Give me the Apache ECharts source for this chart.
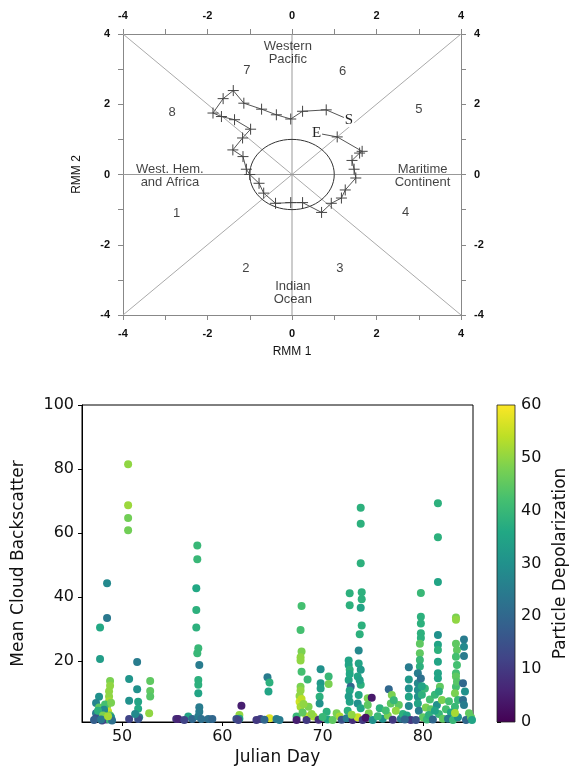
<!DOCTYPE html>
<html>
<head>
<meta charset="utf-8">
<title>MJO phase diagram and cloud backscatter</title>
<script src="https://cdn.jsdelivr.net/npm/echarts@6/dist/echarts.min.js"></script>
<style>
  html, body { margin: 0; padding: 0; background: #fff; }
  #chart { width: 570px; height: 775px; }
</style>
</head>
<body>
<div id="chart"></div>
<script>
// ---- RMM phase diagram ----
const rmmTicks = [-4, -2, 0, 2, 4];
const rmmMinorTicks = [-4, -3, -2, -1, 0, 1, 2, 3, 4];

// daily RMM1 / RMM2 trajectory, first point = S, last point = E
const rmm1 = [1.35, 0.81, 0.25, -0.03, -0.37, -0.72, -1.14, -1.39, -1.63, -1.87, -1.67, -1.36, -0.98, -1.17, -1.40, -1.16, -1.08, -1.0, -0.78, -0.67, -0.39, -0.03, 0.25, 0.70, 0.93, 1.17, 1.26, 1.51, 1.47, 1.42, 1.60, 1.66, 1.07, 0.58];
const rmm2 = [1.56, 1.84, 1.80, 1.58, 1.70, 1.86, 2.03, 2.39, 2.16, 1.75, 1.65, 1.56, 1.29, 1.04, 0.70, 0.51, 0.15, 0.0, -0.25, -0.53, -0.82, -0.80, -0.80, -1.08, -0.82, -0.67, -0.44, -0.10, 0.15, 0.40, 0.61, 0.66, 1.07, 1.18];
const trajectoryEndLabels = ['S', 'E'];

// phase sector labels
const phaseText = ['Western\nPacific', '7', '6', '8', '5', 'West. Hem.\nand Africa', 'Maritime\nContinent', '1', '4', '2', '3', 'Indian\nOcean'];
const phaseX = [-0.1, -1.07, 1.2, -2.84, 3.0, -2.89, 3.09, -2.73, 2.69, -1.09, 1.13, 0.02];
const phaseY = [3.47, 2.95, 2.93, 1.78, 1.84, -0.04, -0.04, -1.12, -1.09, -2.66, -2.66, -3.38];

// sector divider lines
const dividerSegments = [
  [[-4, -4], [4, 4]],
  [[-4, 4], [4, -4]],
  [[-4, 0], [4, 0]],
  [[0, -4], [0, 4]]
];

// ---- cloud backscatter scatter: [julian day, mean backscatter, particle depolarization] ----
const dayTicks = [50, 60, 70, 80];
const backscatterTicks = [20, 40, 60, 80, 100];
const cloudPoints = [
  [48.5,44.3,28],[48.5,33.5,24],[47.8,30.5,36],[47.8,20.7,33],
  [48.8,13.8,48],[48.8,12.3,50],[48.7,10.6,50],[48.7,9.0,50],[48.7,7.5,52],[48.5,5.9,50],[48.6,4.3,55],[48.8,3.0,45],
  [47.7,8.9,30],[47.4,6.9,27],[47.7,5.5,45],[47.4,3.7,25],[47.4,2.2,15],[48.0,2.5,20],[48.4,1.8,8],[48.9,2.5,30],
  [48.7,1.8,40],[48.2,3.8,35],[47.2,1.6,18],[48.0,1.5,12],[49.0,1.5,22],[48.3,6.5,42],[48.9,7.0,48],[48.2,4.8,28],
  [47.6,4.5,38],[48.1,3.0,48],[47.9,1.8,24],[48.6,2.8,52],
  [50.6,81.5,50],[50.6,68.7,51],[50.6,64.7,47],[50.6,60.9,47],
  [51.5,19.7,25],[50.7,14.4,31],[51.5,11.2,30],[50.7,7.6,30],[51.6,7.3,35],[51.6,5.1,36],[51.7,2.5,25],[50.7,1.9,12],
  [51.6,1.9,15],[51.3,3.5,28],
  [52.8,13.8,45],[52.8,10.7,45],[52.8,9.0,44],[52.7,3.7,50],
  [55.4,1.9,8],[55.6,1.9,6],[56.6,2.7,35],[57.0,1.9,20],[58.6,1.9,22],[59.0,1.9,20],[56.2,1.6,12],
  [57.5,56.1,40],[57.5,51.8,40],[57.4,42.8,36],[57.4,36.0,38],[57.4,30.5,38],[57.6,24.0,40],[57.5,22.5,40],
  [57.7,18.8,25],[57.6,14.1,38],[57.6,12.6,38],[57.6,10.0,35],[57.7,5.6,25],[57.7,4.2,25],[57.6,2.7,25],[57.9,1.9,22],
  [61.9,6.1,5],[61.7,3.2,50],[61.7,2.0,35],[61.4,1.9,15],[61.6,1.6,12],
  [64.5,15.0,25],[64.7,13.3,38],[64.6,10.5,35],[64.7,2.2,57],[63.8,1.9,12],[65.4,1.9,25],[63.4,1.6,10],[65.7,1.6,25],
  [64.2,1.7,20],
  [67.9,37.2,42],[67.8,29.7,42],[67.9,23.0,48],[67.8,21.2,50],[67.8,20.2,50],[67.9,16.7,42],[67.8,12.0,48],
  [67.8,10.8,50],[67.7,9.1,50],[67.7,7.3,56],[67.8,5.8,52],[68.6,5.8,48],[68.4,2.7,55],[69.1,2.7,52],[67.4,2.7,40],
  [68.5,14.3,40],[67.4,1.6,5],[68.4,1.6,10],[69.6,1.7,8],[68.0,4.0,45],[68.9,3.5,50],[67.9,8.2,54],[68.1,6.6,50],
  [69.8,17.5,30],[69.8,13.1,32],[69.8,11.5,34],[69.7,8.9,38],[69.7,6.8,30],[70.6,15.2,40],[70.6,12.9,48],
  [70.4,4.2,38],[71.4,3.7,48],[71.7,2.7,52],[70.5,1.8,35],[71.0,1.6,45],[71.9,1.7,15],[70.0,2.6,40],
  [73.8,67.9,38],[73.8,62.9,38],[73.8,50.6,38],
  [72.7,41.2,38],[72.7,37.5,38],[73.9,41.5,38],[73.9,39.3,38],[73.8,36.7,35],[73.9,31.1,38],[73.7,28.4,38],[73.6,23.3,28],
  [72.6,20.2,35],[72.6,18.8,35],[72.7,17.3,38],[72.6,14.1,35],[72.8,12.0,20],[72.7,10.8,35],[72.7,7.3,35],
  [73.6,19.3,35],[73.8,17.3,32],[73.5,15.2,35],[73.8,12.6,38],[73.6,9.4,35],[73.5,6.8,30],[73.8,5.3,35],
  [74.5,8.4,48],[74.9,8.6,4],[74.5,6.3,45],[74.6,3.7,48],[72.5,4.5,38],[72.4,2.2,25],[73.0,1.6,8],[73.5,2.5,55],
  [74.0,1.6,10],[74.3,2.3,3],[75.0,1.6,30],[72.9,3.3,50],[72.7,16.0,36],[73.7,14.0,34],[72.6,9.0,33],
  [75.7,5.3,38],[76.6,11.2,20],[76.9,9.4,48],[76.8,6.8,45],[77.6,6.3,45],[76.0,2.0,30],[76.5,3.0,48],[77.0,1.7,10],
  [77.8,2.0,25],[75.5,2.8,40],[78.0,3.5,38],[77.3,4.5,50],[76.3,4.6,42],[77.1,7.8,40],
  [78.6,18.1,25],[78.6,14.3,32],[78.6,11.5,30],[78.6,8.9,35],[78.6,6.0,28],[78.4,3.0,35],[78.8,1.6,10],[78.2,1.8,20],
  [79.8,41.3,40],[79.8,33.9,38],[79.8,31.8,38],[79.8,28.7,38],[79.8,27.2,38],[79.7,25.4,45],[79.7,22.5,45],
  [79.7,20.4,40],[79.7,18.3,38],[79.5,16.2,25],[79.5,13.1,28],[79.5,11.0,30],[79.5,8.9,30],[79.5,6.8,35],
  [79.8,14.6,22],[79.9,9.5,38],[79.6,4.5,25],[80.0,2.5,45],[79.3,1.6,15],[80.4,1.8,40],[80.3,5.5,48],
  [80.7,8.0,42],[80.8,5.0,45],[80.6,3.2,38],[80.2,11.5,40],[79.9,12.2,35],
  [81.5,69.3,38],[81.5,58.7,38],[81.5,44.7,35],[81.5,28.2,30],[81.5,25.1,35],[81.5,23.5,38],[81.5,19.8,35],
  [81.5,16.2,35],[81.5,14.7,35],[81.7,12.0,45],[81.4,6.3,30],[81.9,7.9,48],[81.2,9.5,40],[81.6,3.5,40],
  [81.0,1.8,20],[82.0,2.0,45],[81.2,4.5,35],[81.6,10.5,38],[82.3,5.0,42],
  [83.3,33.6,48],[83.3,32.9,50],[83.3,25.4,45],[83.4,23.5,45],[83.3,21.4,42],[83.4,18.8,42],[83.3,16.2,42],
  [83.3,15.2,45],[83.3,12.0,42],[83.2,10.0,48],[83.5,7.9,40],[83.2,5.8,40],[82.6,7.5,42],[82.8,4.0,35],
  [82.5,2.0,25],[83.0,1.6,40],[83.5,2.5,30],[83.4,13.6,44],[83.2,3.8,52],
  [84.1,26.8,25],[84.1,24.5,28],[84.1,21.6,25],[84.0,13.1,20],[84.0,7.9,22],[84.1,6.3,25],[84.6,3.7,45],
  [84.3,1.6,20],[84.8,2.5,45],[84.9,1.6,35],[84.2,10.5,30]
];

// viridis colour map
const viridis = ['#440154', '#482475', '#414487', '#355f8d', '#2a788e', '#21918c', '#22a884', '#44bf70', '#7ad151', '#bddf26', '#fde725'];

const sansTop = '"Liberation Sans", Arial, sans-serif';
const sansBottom = '"DejaVu Sans", sans-serif';

function rmmAxis(position, nameOpts) {
  return Object.assign({
    gridIndex: 0,
    type: 'value',
    min: -4,
    max: 4,
    position: position,
    axisLine: { show: true, onZero: false, lineStyle: { color: '#888', width: 1 } },
    axisTick: { show: true, inside: false, length: 5, customValues: rmmMinorTicks, lineStyle: { color: '#888', width: 1 } },
    axisLabel: {
      customValues: rmmTicks, color: '#111', fontSize: 11, fontWeight: 'bold',
      fontFamily: sansTop, margin: 13
    },
    splitLine: { show: false }
  }, nameOpts || {});
}

const chart = echarts.init(document.getElementById('chart'), null, { renderer: 'canvas' });

const lastIdx = rmm1.length - 1;
const trajectoryData = rmm1.map((x, i) => {
  const item = { value: [x, rmm2[i]] };
  if (i === 0 || i === lastIdx) item.symbol = 'none';
  return item;
});
const endPointData = [
  { value: [rmm1[0], rmm2[0]], name: trajectoryEndLabels[0] },
  { value: [rmm1[lastIdx], rmm2[lastIdx]], name: trajectoryEndLabels[1] }
];

const option = {
  backgroundColor: '#fff',
  animation: false,
  grid: [
    { left: 123, top: 34, width: 338, height: 281, show: false },
    { left: 82, top: 405, width: 391, height: 317, show: true, borderColor: '#000', borderWidth: 1, backgroundColor: 'transparent' },
    { left: 497, top: 405, width: 20, height: 317, show: false }
  ],
  xAxis: [
    rmmAxis('bottom', {
      name: 'RMM 1', nameLocation: 'middle', nameGap: 31,
      nameTextStyle: { fontSize: 12, color: '#111', fontFamily: sansTop }
    }),
    rmmAxis('top'),
    {
      gridIndex: 1, type: 'value', min: 46, max: 85, position: 'bottom',
      axisLine: { show: true, onZero: false, lineStyle: { color: '#000', width: 1 } },
      axisTick: { show: true, length: 4, customValues: dayTicks, lineStyle: { color: '#000' } },
      axisLabel: { customValues: dayTicks, fontSize: 16, color: '#111', fontFamily: sansBottom, margin: 7 },
      splitLine: { show: false },
      name: 'Julian Day', nameLocation: 'middle', nameGap: 27,
      nameTextStyle: { fontSize: 17, color: '#111', fontFamily: sansBottom }
    },
    {
      gridIndex: 2, type: 'value', min: 0, max: 1, show: false
    }
  ],
  yAxis: [
    rmmAxis('left', {
      name: 'RMM 2', nameLocation: 'middle', nameGap: 40,
      nameTextStyle: { fontSize: 12, color: '#111', fontFamily: sansTop }
    }),
    rmmAxis('right'),
    {
      gridIndex: 1, type: 'value', min: 1, max: 100, position: 'left',
      axisLine: { show: true, onZero: false, lineStyle: { color: '#000', width: 1 } },
      axisTick: { show: true, length: 4, customValues: backscatterTicks, lineStyle: { color: '#000' } },
      axisLabel: { customValues: backscatterTicks, fontSize: 16, color: '#111', fontFamily: sansBottom, margin: 8 },
      splitLine: { show: false },
      name: 'Mean Cloud Backscatter', nameLocation: 'middle', nameGap: 55,
      nameTextStyle: { fontSize: 17, color: '#111', fontFamily: sansBottom }
    },
    {
      gridIndex: 2, type: 'value', min: 0, max: 60, interval: 10, position: 'right',
      axisLine: { show: false },
      axisTick: { show: true, length: 4, lineStyle: { color: '#000' } },
      axisLabel: { fontSize: 16, color: '#111', fontFamily: sansBottom, margin: 6 },
      splitLine: { show: false },
      name: 'Particle Depolarization', nameLocation: 'middle', nameGap: 37,
      nameTextStyle: { fontSize: 17, color: '#111', fontFamily: sansBottom }
    }
  ],
  visualMap: {
    type: 'continuous', show: false,
    dimension: 2, min: 0, max: 60,
    inRange: { color: viridis }
  },
  series: [
    ...dividerSegments.map((seg, i) => ({
      type: 'line', xAxisIndex: 0, yAxisIndex: 0, data: seg,
      symbol: 'none', silent: true,
      lineStyle: { color: i < 2 ? '#aaa' : '#999', width: 1 },
      z: 1
    })),
    {
      // unit amplitude circle
      type: 'custom', xAxisIndex: 0, yAxisIndex: 0, silent: true,
      data: [[0, 0, 1]],
      renderItem: function (params, api) {
        const c = api.coord([api.value(0), api.value(1)]);
        const s = api.size([api.value(2), api.value(2)]);
        return {
          type: 'ellipse',
          shape: { cx: c[0], cy: c[1], rx: s[0], ry: s[1] },
          style: { fill: 'none', stroke: '#333', lineWidth: 1 }
        };
      },
      z: 2
    },
    {
      type: 'scatter', xAxisIndex: 0, yAxisIndex: 0, silent: true,
      symbolSize: 0,
      data: phaseText.map((t, i) => ({ value: [phaseX[i], phaseY[i]], name: t })),
      label: {
        show: true, position: 'inside', formatter: p => p.name,
        fontFamily: sansTop, fontSize: 13, color: '#111', lineHeight: 13
      },
      z: 3
    },
    {
      type: 'line', xAxisIndex: 0, yAxisIndex: 0, silent: true,
      data: trajectoryData,
      symbol: 'path://M0,6L12,6M6,0L6,12',
      symbolSize: 11,
      itemStyle: { color: '#444', borderColor: '#444', borderWidth: 1 },
      lineStyle: { color: '#555', width: 1 },
      z: 4
    },
    {
      // start / end markers of the trajectory
      type: 'custom', xAxisIndex: 0, yAxisIndex: 0, silent: true,
      data: endPointData,
      renderItem: function (params, api) {
        const p = api.coord([api.value(0), api.value(1)]);
        return {
          type: 'text',
          x: p[0], y: p[1],
          style: {
            text: endPointData[params.dataIndex].name,
            fill: '#222', backgroundColor: '#fff', padding: [0, 1],
            font: '15px "Liberation Serif", "DejaVu Serif", serif',
            align: 'center', verticalAlign: 'middle'
          }
        };
      },
      z: 6
    },
    {
      type: 'scatter', xAxisIndex: 2, yAxisIndex: 2, silent: true,
      data: cloudPoints,
      symbolSize: 8,
      itemStyle: { opacity: 1 },
      z: 5
    },
    {
      // colour bar
      type: 'custom', xAxisIndex: 3, yAxisIndex: 3, silent: true,
      data: [[0, 0]],
      renderItem: function (params, api) {
        const top = api.coord([0, 60]);
        const bottom = api.coord([1, 0]);
        return {
          type: 'rect',
          shape: { x: top[0], y: top[1], width: bottom[0] - top[0], height: bottom[1] - top[1] },
          style: {
            fill: new echarts.graphic.LinearGradient(0, 1, 0, 0,
              viridis.map((c, i) => ({ offset: i / (viridis.length - 1), color: c }))),
            stroke: '#222', lineWidth: 0.8
          }
        };
      },
      z: 5
    }
  ]
};

option.visualMap.seriesIndex = option.series.length - 2;
chart.setOption(option);
</script>
</body>
</html>
